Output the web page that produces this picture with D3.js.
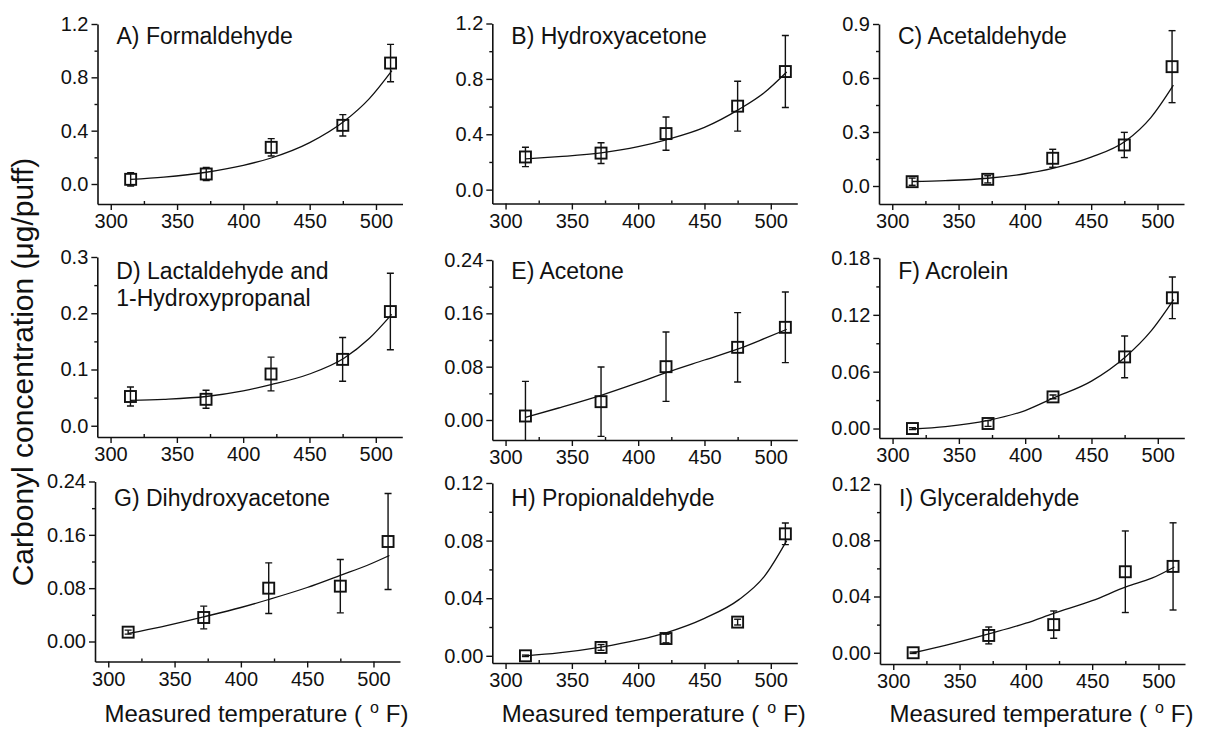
<!DOCTYPE html>
<html>
<head>
<meta charset="utf-8">
<script src="https://cdn.jsdelivr.net/npm/d3@7"></script>
<style>
  body { margin: 0; background: #fff; }
  svg { display: block; }
  text { font-family: "Liberation Sans", Arial, Helvetica, sans-serif; fill: #111; }
</style>
</head>
<body>
<svg id="chart" width="1206" height="732"></svg>
<script>
// Measured coil temperatures (°F)
const temperatures = [315, 372, 421, 475, 511];
// Temperatures at which the fitted trend line is sampled
const fitTemperatures = [315, 340, 372, 400, 421, 450, 476, 495, 512];

const panelTitles = [
  ["A) Formaldehyde"],
  ["B) Hydroxyacetone"],
  ["C) Acetaldehyde"],
  ["D) Lactaldehyde and", "1-Hydroxypropanal"],
  ["E) Acetone"],
  ["F) Acrolein"],
  ["G) Dihydroxyacetone"],
  ["H) Propionaldehyde"],
  ["I) Glyceraldehyde"]
];

// Mean yields (µg/puff), standard deviations and fitted trends
const formaldehyde        = [0.035, 0.075, 0.275, 0.44, 0.907];
const formaldehydeSd      = [0.05, 0.05, 0.065, 0.08, 0.14];
const formaldehydeFit     = [0.035, 0.052, 0.088, 0.14, 0.195, 0.31, 0.47, 0.64, 0.85];

const hydroxyacetone      = [0.236, 0.264, 0.405, 0.603, 0.853];
const hydroxyacetoneSd    = [0.07, 0.075, 0.12, 0.18, 0.26];
const hydroxyacetoneFit   = [0.222, 0.238, 0.265, 0.31, 0.36, 0.45, 0.58, 0.70, 0.85];

const acetaldehyde        = [0.024, 0.037, 0.154, 0.228, 0.663];
const acetaldehydeSd      = [0.02, 0.02, 0.05, 0.07, 0.2];
const acetaldehydeFit     = [0.025, 0.03, 0.043, 0.068, 0.098, 0.16, 0.25, 0.38, 0.56];

const lactaldehyde        = [0.052, 0.047, 0.092, 0.118, 0.203];
const lactaldehydeSd      = [0.017, 0.016, 0.03, 0.039, 0.068];
const lactaldehydeFit     = [0.045, 0.047, 0.052, 0.062, 0.073, 0.092, 0.12, 0.155, 0.198];

const acetone             = [0.006, 0.0275, 0.08, 0.109, 0.139];
const acetoneSd           = [0.052, 0.052, 0.052, 0.052, 0.053];
const acetoneFit          = [0.004, 0.018, 0.037, 0.056, 0.071, 0.09, 0.107, 0.122, 0.136];

const acrolein            = [0.0, 0.0053, 0.0334, 0.0756, 0.138];
const acroleinSd          = [0.001, 0.003, 0.002, 0.022, 0.022];
const acroleinFit         = [-0.0005, 0.002, 0.0085, 0.019, 0.032, 0.05, 0.076, 0.103, 0.136];

const dihydroxyacetone    = [0.014, 0.036, 0.08, 0.083, 0.15];
const dihydroxyacetoneSd  = [0.003, 0.017, 0.038, 0.04, 0.072];
const dihydroxyacetoneFit = [0.012, 0.022, 0.037, 0.051, 0.063, 0.081, 0.1, 0.114, 0.129];

const propionaldehyde     = [0.0, 0.0058, 0.012, 0.0234, 0.0847];
const propionaldehydeSd   = [0.0005, 0.002, 0.003, 0.002, 0.0075];
const propionaldehydeFit  = [0.0, 0.002, 0.006, 0.011, 0.016, 0.026, 0.039, 0.055, 0.08];

const glyceraldehyde      = [0.0, 0.0123, 0.02, 0.0576, 0.0614];
const glyceraldehydeSd    = [0.0005, 0.006, 0.0097, 0.029, 0.031];
const glyceraldehydeFit   = [0.0, 0.0055, 0.0135, 0.021, 0.028, 0.037, 0.047, 0.053, 0.061];

// Y-axis settings for each panel: [min, max, major step, decimals]
const yAxes = [
  [-0.15, 1.2, 0.4, 1],
  [-0.1, 1.2, 0.4, 1],
  [-0.1, 0.9, 0.3, 1],
  [-0.02, 0.3, 0.1, 1],
  [-0.03, 0.24, 0.08, 2],
  [-0.01, 0.18, 0.06, 2],
  [-0.03, 0.24, 0.08, 2],
  [-0.005, 0.12, 0.04, 2],
  [-0.008, 0.12, 0.04, 2]
];
const xDomain = [290, 520];
const xMajorTicks = [300, 350, 400, 450, 500];
const xMinorTicks = [325, 375, 425, 475];

// Plot frame of each panel (left, top) in pixels
const frames = [
  [97.5, 24], [492.3, 23.5], [879, 24],
  [97.3, 257], [492.3, 260], [879.3, 258],
  [95, 481.5], [492.3, 483], [880, 484]
];
const plotW = 305, plotH = 180;

const series = [
  [formaldehyde, formaldehydeSd, formaldehydeFit],
  [hydroxyacetone, hydroxyacetoneSd, hydroxyacetoneFit],
  [acetaldehyde, acetaldehydeSd, acetaldehydeFit],
  [lactaldehyde, lactaldehydeSd, lactaldehydeFit],
  [acetone, acetoneSd, acetoneFit],
  [acrolein, acroleinSd, acroleinFit],
  [dihydroxyacetone, dihydroxyacetoneSd, dihydroxyacetoneFit],
  [propionaldehyde, propionaldehydeSd, propionaldehydeFit],
  [glyceraldehyde, glyceraldehydeSd, glyceraldehydeFit]
];

const svg = d3.select("#chart");
const ink = "#111";

series.forEach(([means, sds, fit], i) => {
  const [left, top] = frames[i];
  const [ymin, ymax, step, dec] = yAxes[i];
  const g = svg.append("g").attr("transform", `translate(${left},${top})`);

  const x = d3.scaleLinear().domain(xDomain).range([0, plotW]);
  const y = d3.scaleLinear().domain([ymin, ymax]).range([plotH, 0]);

  const majors = d3.range(0, ymax + step / 1000, step);
  const minors = d3.range(step / 2, ymax, step);

  // clip region for marks
  const clipId = "clip" + i;
  g.append("clipPath").attr("id", clipId)
    .append("rect").attr("x", 0).attr("y", -2).attr("width", plotW + 4).attr("height", plotH + 2);

  // y axis: major ticks outward, minor ticks short
  g.append("g")
    .call(d3.axisLeft(y).tickValues(majors).tickSizeInner(6).tickSizeOuter(0)
      .tickPadding(3).tickFormat(d3.format(`.${dec}f`)));
  g.append("g")
    .call(d3.axisLeft(y).tickValues(minors).tickSizeInner(3).tickSizeOuter(0).tickFormat(""))
    .select(".domain").remove();

  // x axis: major ticks outward, minor ticks inward
  g.append("g").attr("transform", `translate(0,${plotH})`)
    .call(d3.axisBottom(x).tickValues(xMajorTicks).tickSizeInner(6).tickSizeOuter(0)
      .tickPadding(4).tickFormat(d3.format("d")));
  g.append("g").attr("transform", `translate(0,${plotH})`)
    .call(d3.axisBottom(x).tickValues(xMinorTicks).tickSizeInner(-3).tickSizeOuter(0).tickFormat(""))
    .select(".domain").remove();

  g.selectAll(".domain").attr("stroke", ink).attr("stroke-width", 1.6);
  g.selectAll(".tick line").attr("stroke", ink).attr("stroke-width", 1.4);
  g.selectAll(".tick text").attr("font-size", 20).attr("fill", ink)
    .style("font-family", '"Liberation Sans", Arial, sans-serif');

  const marks = g.append("g").attr("clip-path", `url(#${clipId})`);

  // fitted trend
  marks.append("path")
    .datum(fitTemperatures.map((t, k) => [t, fit[k]]))
    .attr("fill", "none").attr("stroke", ink).attr("stroke-width", 1.3)
    .attr("d", d3.line().x(d => x(d[0])).y(d => y(d[1])).curve(d3.curveMonotoneX));

  const pts = temperatures.map((t, k) => ({ t, m: means[k], sd: sds[k] }));
  const cap = 3.5;

  // error bars
  const eb = marks.selectAll(".eb").data(pts).join("g")
    .attr("stroke", ink).attr("stroke-width", 1.4).attr("fill", "none");
  eb.append("line")
    .attr("x1", d => x(d.t)).attr("x2", d => x(d.t))
    .attr("y1", d => y(d.m + d.sd)).attr("y2", d => y(d.m - d.sd));
  eb.append("line")
    .attr("x1", d => x(d.t) - cap).attr("x2", d => x(d.t) + cap)
    .attr("y1", d => y(d.m + d.sd)).attr("y2", d => y(d.m + d.sd));
  eb.append("line")
    .attr("x1", d => x(d.t) - cap).attr("x2", d => x(d.t) + cap)
    .attr("y1", d => y(d.m - d.sd)).attr("y2", d => y(d.m - d.sd));

  // open square markers
  const s = 11;
  g.selectAll(".pt").data(pts).join("rect")
    .attr("x", d => x(d.t) - s / 2).attr("y", d => y(d.m) - s / 2)
    .attr("width", s).attr("height", s)
    .attr("fill", "none").attr("stroke", ink).attr("stroke-width", 1.9);

  // panel title
  const titleY = [44, 279, 506][Math.floor(i / 3)];
  const title = g.append("text")
    .attr("x", 19).attr("y", titleY - top)
    .attr("font-size", 23).attr("fill", ink);
  panelTitles[i].forEach((line, k) => {
    title.append("tspan").attr("x", 19).attr("dy", k === 0 ? 0 : 27).text(line);
  });

  // x axis title under each bottom-row panel
  if (i >= 6) {
    const xt = g.append("text")
      .attr("x", plotW / 2 + 9).attr("y", 722 - top)
      .attr("text-anchor", "middle").attr("font-size", 24).attr("fill", ink);
    xt.append("tspan").text("Measured temperature (");
    xt.append("tspan").attr("dx", 8).attr("dy", -9).attr("font-size", 16).text("o");
    xt.append("tspan").attr("dx", 7).attr("dy", 9).text("F)");
  }
});

// shared y axis title
svg.append("text")
  .attr("transform", "translate(33,372) rotate(-90)")
  .attr("text-anchor", "middle").attr("font-size", 30).attr("fill", ink)
  .text("Carbonyl concentration (\u03bcg/puff)");
</script>
</body>
</html>
